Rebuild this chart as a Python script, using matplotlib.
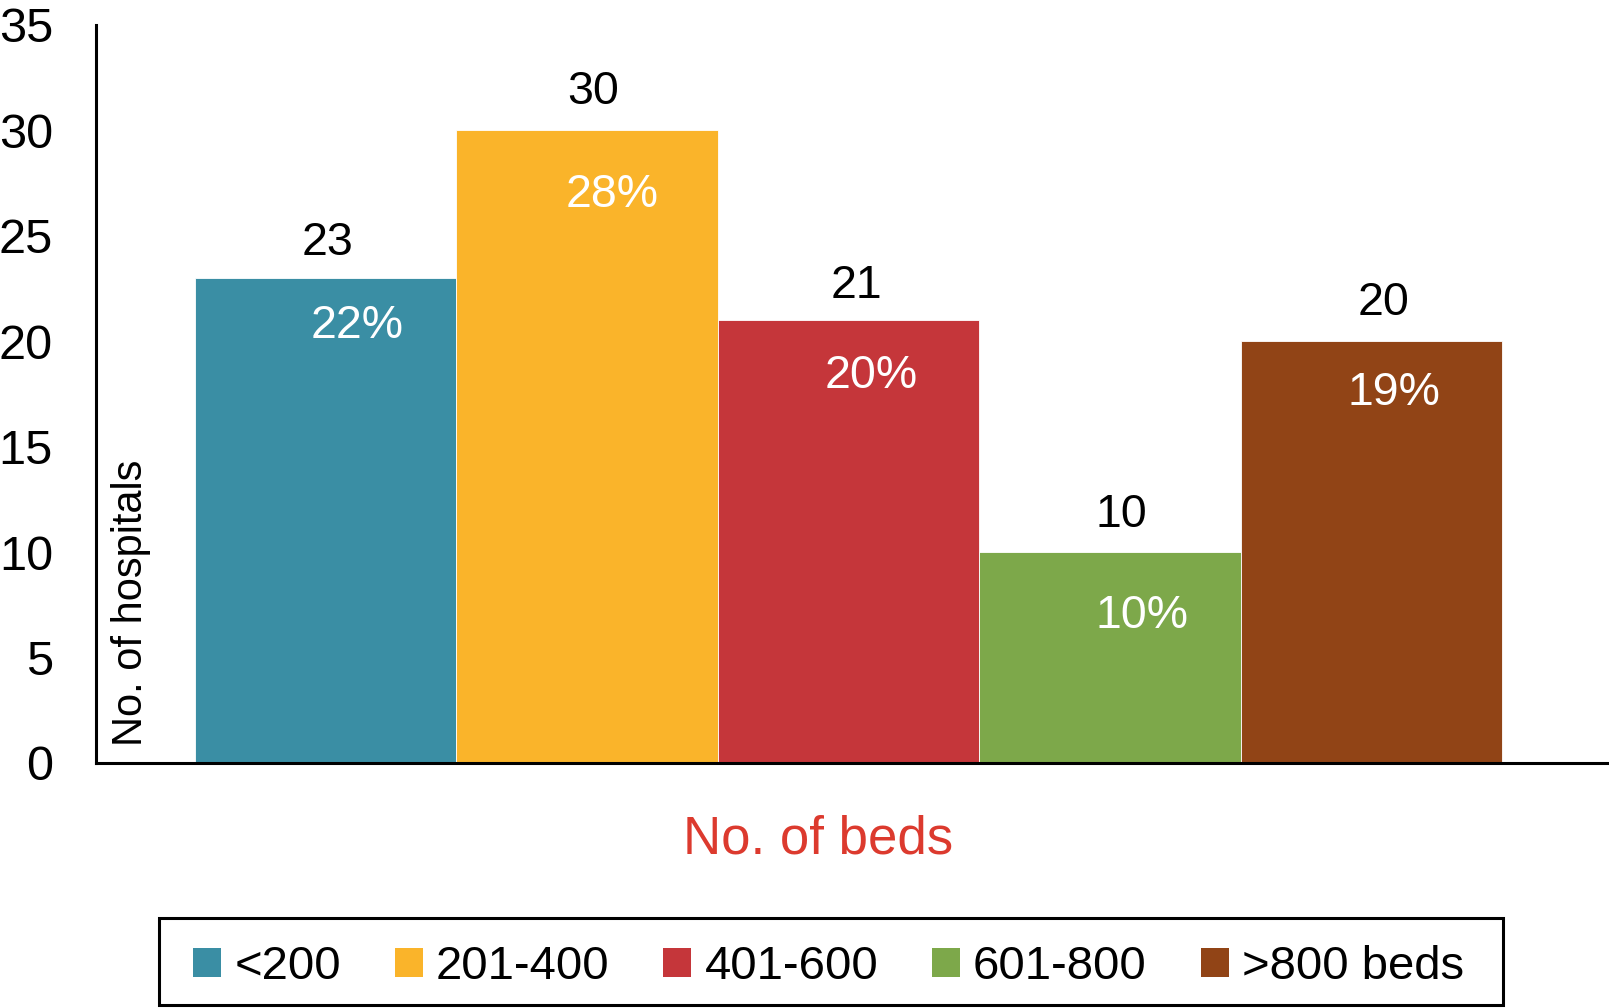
import matplotlib
matplotlib.use("Agg")
import matplotlib.pyplot as plt
from matplotlib.patches import Patch, Rectangle

plt.rcParams['font.family'] = ['Liberation Sans', 'DejaVu Sans']

# ---- data ----
categories = ["<200", "201-400", "401-600", "601-800", ">800 beds"]
hospitals = [23, 30, 21, 10, 20]
percent_labels = ["22%", "28%", "20%", "10%", "19%"]
yticks = [0, 5, 10, 15, 20, 25, 30, 35]

# ---- style ----
colors = ["#3A8EA4", "#FAB42A", "#C5363A", "#7DA84A", "#914416"]
# label layout offsets (pixels)
count_dx = [2, 6, 8, 11, 12]
count_dy = [23, 26, 22, 25, 26]
pct_dx = [32, 25, 23, 32, 22]
pct_dy = [60, 77, 68, 76, 64]

W, H = 1609, 1008
fig = plt.figure(figsize=(W / 100, H / 100), dpi=100)
ax = fig.add_axes([96 / W, (H - 763) / H, (1608 - 96) / W, (763 - 25) / H])

x = list(range(len(categories)))
bars = ax.bar(x, hospitals, width=1.0, color=colors, edgecolor="white", linewidth=0.6)

ax.set_xlim(-0.8776, 4.904)
ax.set_ylim(0, 35)
ax.set_yticks(yticks)
ax.set_yticklabels([str(t) for t in yticks], fontsize=35)
ax.tick_params(axis='y', length=0, pad=31)
ax.set_xticks([])
for s in ["top", "right"]:
    ax.spines[s].set_visible(False)
for s in ["left", "bottom"]:
    ax.spines[s].set_linewidth(2.2)
    ax.spines[s].set_color("black")

for i, v in enumerate(hospitals):
    ax.annotate(str(v), xy=(x[i], v), xytext=(count_dx[i], count_dy[i]),
                textcoords="offset pixels", ha="center", va="baseline",
                fontsize=33.5, color="black")
    ax.annotate(percent_labels[i], xy=(x[i], v), xytext=(pct_dx[i], -pct_dy[i]),
                textcoords="offset pixels", ha="center", va="baseline",
                fontsize=33.5, color="white")

# y label inside the axes
fig.text(142 / W, (H - 746) / H, "No. of hospitals", rotation=90,
         rotation_mode="anchor", ha="left", va="baseline", fontsize=30, color="black")

# x label
fig.text(818 / W, (H - 853) / H, "No. of beds", ha="center", va="baseline",
         fontsize=38, color="#DC3A2E")

# legend box
fig.patches.append(Rectangle((159 / W, (H - 1005) / H), (1503 - 159) / W, (1005 - 918) / H,
                             transform=fig.transFigure, fill=False, edgecolor="black",
                             linewidth=2.2, zorder=5))

handles = [Patch(facecolor=c, edgecolor="none") for c in colors]
leg = fig.legend(handles, categories, loc="center", ncol=5,
                 bbox_to_anchor=(828.6 / W, (H - 967) / H),
                 bbox_transform=fig.transFigure,
                 fontsize=34, frameon=False,
                 handlelength=0.59, handleheight=0.59, handletextpad=0.28,
                 columnspacing=1.14, borderpad=0.0, borderaxespad=0)

fig.savefig("out.png", dpi=100)
